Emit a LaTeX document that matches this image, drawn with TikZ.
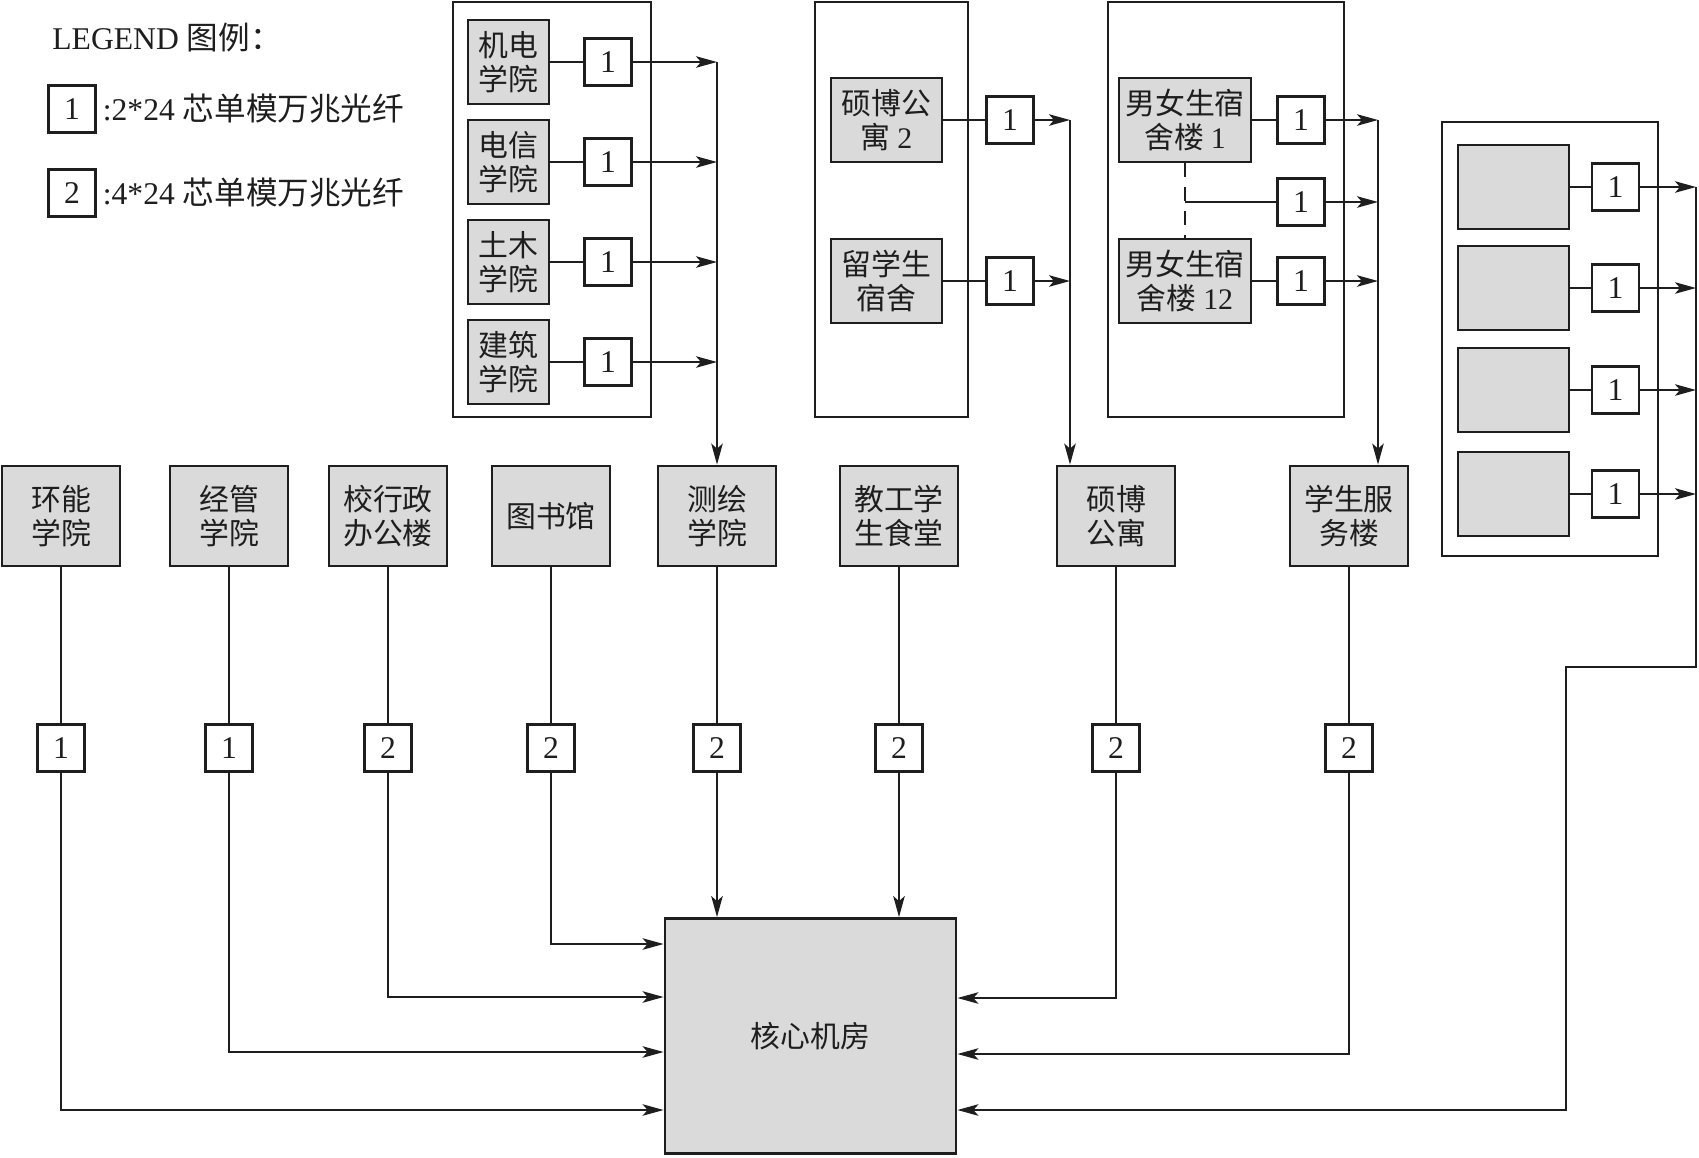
\documentclass[tikz,border=0pt]{standalone}
\usepackage{fontspec}
\setmainfont{Liberation Serif}
\newfontfamily\cjk{Noto Sans CJK SC}
\usetikzlibrary{arrows.meta,positioning,calc}
\definecolor{Ink}{HTML}{1E1E1E}
\definecolor{Panel}{HTML}{DADADA}
\newcommand{\tam}{\fontsize{17}{19}\selectfont}
\newcommand{\tamley}{\fontsize{18}{20}\selectfont}

\begin{document}
\begin{tikzpicture}[>={Stealth[length=4.2mm,width=2.3mm,inset=1mm]},x=0.2mm,y=-0.2mm,
  sitio/.style={draw=Ink,line width=1.6pt,fill=Panel,inner sep=0pt,align=center,
    font=\cjk\tam,text=Ink,minimum width=23.6mm,minimum height=20mm},
  fibra/.style={draw=Ink,line width=1.3pt,fill=white,inner sep=0pt,minimum size=9.4mm,
    font=\fontsize{18}{20}\selectfont,text=Ink},
  grupo/.style={draw=Ink,line width=1.6pt},
  enlace/.style={draw=Ink,line width=1.1pt}]
  \useasboundingbox (0,0) rectangle (1699,1157);

  % Leyenda con los dos tipos de fibra.
  \node[anchor=west,font=\tamley,text=Ink,inner sep=0pt] (leyenda) at (52,38) {LEGEND {\cjk 图例：}};
  \node[fibra] (ley1) at (72,109) {1};
  \node[right=0pt of ley1,font=\tamley,text=Ink] (tx1) {:2*24 {\cjk 芯单模万兆光纤}};
  \node[fibra] (ley2) at (72,193) {2};
  \node[right=0pt of ley2,font=\tamley,text=Ink] (tx2) {:4*24 {\cjk 芯单模万兆光纤}};

  % Fila de edificios y su fibra hacia el nodo central.
  \node[sitio] (hn)   at (61,516)   {环能\\学院};
  \node[sitio] (jg)   at (229,516)  {经管\\学院};
  \node[sitio] (xz)   at (388,516)  {校行政\\办公楼};
  \node[sitio] (tsg)  at (551,516)  {图书馆};
  \node[sitio] (ch)   at (717,516)  {测绘\\学院};
  \node[sitio] (jgst) at (899,516)  {教工学\\生食堂};
  \node[sitio] (sbgy) at (1116,516) {硕博\\公寓};
  \node[sitio] (xsfw) at (1349,516) {学生服\\务楼};

  \node[fibra] (fhn)   at (61,748)   {1};
  \node[fibra] (fjg)   at (229,748)  {1};
  \node[fibra] (fxz)   at (388,748)  {2};
  \node[fibra] (ftsg)  at (551,748)  {2};
  \node[fibra] (fch)   at (717,748)  {2};
  \node[fibra] (fjgst) at (899,748)  {2};
  \node[fibra] (fsbgy) at (1116,748) {2};
  \node[fibra] (fxsfw) at (1349,748) {2};

  \node[sitio,minimum width=58.2mm,minimum height=47mm] (core) at (810.5,1036) {核心机房};

  \draw[enlace] (hn) -- (fhn);
  \draw[enlace] (jg) -- (fjg);
  \draw[enlace] (xz) -- (fxz);
  \draw[enlace] (tsg) -- (ftsg);
  \draw[enlace] (ch) -- (fch);
  \draw[enlace] (jgst) -- (fjgst);
  \draw[enlace] (sbgy) -- (fsbgy);
  \draw[enlace] (xsfw) -- (fxsfw);

  \draw[enlace,->] (fhn.south) |- (core.west |- 0,1110);
  \draw[enlace,->] (fjg.south) |- (core.west |- 0,1052);
  \draw[enlace,->] (fxz.south) |- (core.west |- 0,997);
  \draw[enlace,->] (ftsg.south) |- (core.west |- 0,944);
  \draw[enlace,->] (fch.south) -- (fch.south |- core.north);
  \draw[enlace,->] (fjgst.south) -- (fjgst.south |- core.north);
  \draw[enlace,->] (fsbgy.south) |- (core.east |- 0,998);
  \draw[enlace,->] (fxsfw.south) |- (core.east |- 0,1054);

  % Grupo de facultades conectadas a 测绘学院.
  \draw[grupo] (453,2) rectangle (651,417);
  \node[sitio,minimum width=16.2mm,minimum height=16.8mm] (jd) at (508.5,62)  {机电\\学院};
  \node[sitio,minimum width=16.2mm,minimum height=16.8mm] (dx) at (508.5,162) {电信\\学院};
  \node[sitio,minimum width=16.2mm,minimum height=16.8mm] (tm) at (508.5,262) {土木\\学院};
  \node[sitio,minimum width=16.2mm,minimum height=16.8mm] (jz) at (508.5,362) {建筑\\学院};
  \node[fibra] (fjd) at (608,62)  {1};
  \node[fibra] (fdx) at (608,162) {1};
  \node[fibra] (ftm) at (608,262) {1};
  \node[fibra] (fjz) at (608,362) {1};
  \draw[enlace] (jd) -- (fjd);
  \draw[enlace] (dx) -- (fdx);
  \draw[enlace] (tm) -- (ftm);
  \draw[enlace] (jz) -- (fjz);
  \draw[enlace,->] (fjd.east) -- (fjd.east -| ch.north);
  \draw[enlace,->] (fdx.east) -- (fdx.east -| ch.north);
  \draw[enlace,->] (ftm.east) -- (ftm.east -| ch.north);
  \draw[enlace,->] (fjz.east) -- (fjz.east -| ch.north);
  \draw[enlace,->] (fjd.east -| ch.north) -- (ch.north);

  % Residencias de posgrado hacia 硕博公寓.
  \draw[grupo] (815,2) rectangle (968,417);
  \node[sitio,minimum width=22.2mm,minimum height=16.8mm] (sb2) at (886.5,120) {硕博公\\寓 {\rmfamily 2}};
  \node[sitio,minimum width=22.2mm,minimum height=16.8mm] (lx)  at (886.5,281) {留学生\\宿舍};
  \node[fibra] (fsb2) at (1010,120) {1};
  \node[fibra] (flx)  at (1010,281) {1};
  \coordinate (busB) at (1070,120);
  \draw[enlace] (sb2) -- (fsb2);
  \draw[enlace] (lx) -- (flx);
  \draw[enlace,->] (fsb2.east) -- (busB);
  \draw[enlace,->] (flx.east) -- (flx.east -| busB);
  \draw[enlace,->] (busB) -- (busB |- sbgy.north);

  % Dormitorios 1 a 12 hacia 学生服务楼.
  \draw[grupo] (1108,2) rectangle (1344,417);
  \node[sitio,minimum width=26.4mm,minimum height=16.8mm] (ss1)  at (1185,120) {男女生宿\\舍楼 {\rmfamily 1}};
  \node[sitio,minimum width=26.4mm,minimum height=16.8mm] (ss12) at (1185,281) {男女生宿\\舍楼 {\rmfamily 12}};
  \node[fibra] (fss1)  at (1301,120) {1};
  \node[fibra] (fssm)  at (1301,202) {1};
  \node[fibra] (fss12) at (1301,281) {1};
  \coordinate (busC) at (1378,120);
  \draw[enlace] (ss1) -- (fss1);
  \draw[enlace] (ss12) -- (fss12);
  \draw[enlace,dash pattern=on 2.8mm off 2mm] (ss1.south) -- (ss12.north);
  \draw[enlace] (ss1.south |- fssm.west) -- (fssm.west);
  \draw[enlace,->] (fss1.east) -- (busC);
  \draw[enlace,->] (fssm.east) -- (fssm.east -| busC);
  \draw[enlace,->] (fss12.east) -- (fss12.east -| busC);
  \draw[enlace,->] (busC) -- (busC |- xsfw.north);

  % Grupo sin rótulos, unido al nodo central por la derecha.
  \draw[grupo] (1442,122) rectangle (1658,556);
  \node[sitio,minimum width=22.2mm,minimum height=16.8mm] (d1) at (1513.5,187) {};
  \node[sitio,minimum width=22.2mm,minimum height=16.8mm] (d2) at (1513.5,288) {};
  \node[sitio,minimum width=22.2mm,minimum height=16.8mm] (d3) at (1513.5,390) {};
  \node[sitio,minimum width=22.2mm,minimum height=16.8mm] (d4) at (1513.5,494) {};
  \node[fibra] (fd1) at (1615.5,187) {1};
  \node[fibra] (fd2) at (1615.5,288) {1};
  \node[fibra] (fd3) at (1615.5,390) {1};
  \node[fibra] (fd4) at (1615.5,494) {1};
  \coordinate (busD) at (1696,187);
  \coordinate (codo) at (1566,667);
  \draw[enlace] (d1) -- (fd1);
  \draw[enlace] (d2) -- (fd2);
  \draw[enlace] (d3) -- (fd3);
  \draw[enlace] (d4) -- (fd4);
  \draw[enlace,->] (fd1.east) -- (busD);
  \draw[enlace,->] (fd2.east) -- (fd2.east -| busD);
  \draw[enlace,->] (fd3.east) -- (fd3.east -| busD);
  \draw[enlace,->] (fd4.east) -- (fd4.east -| busD);
  \draw[enlace,->] (busD) |- (codo) |- (core.east |- 0,1110);
\end{tikzpicture}
\end{document}
